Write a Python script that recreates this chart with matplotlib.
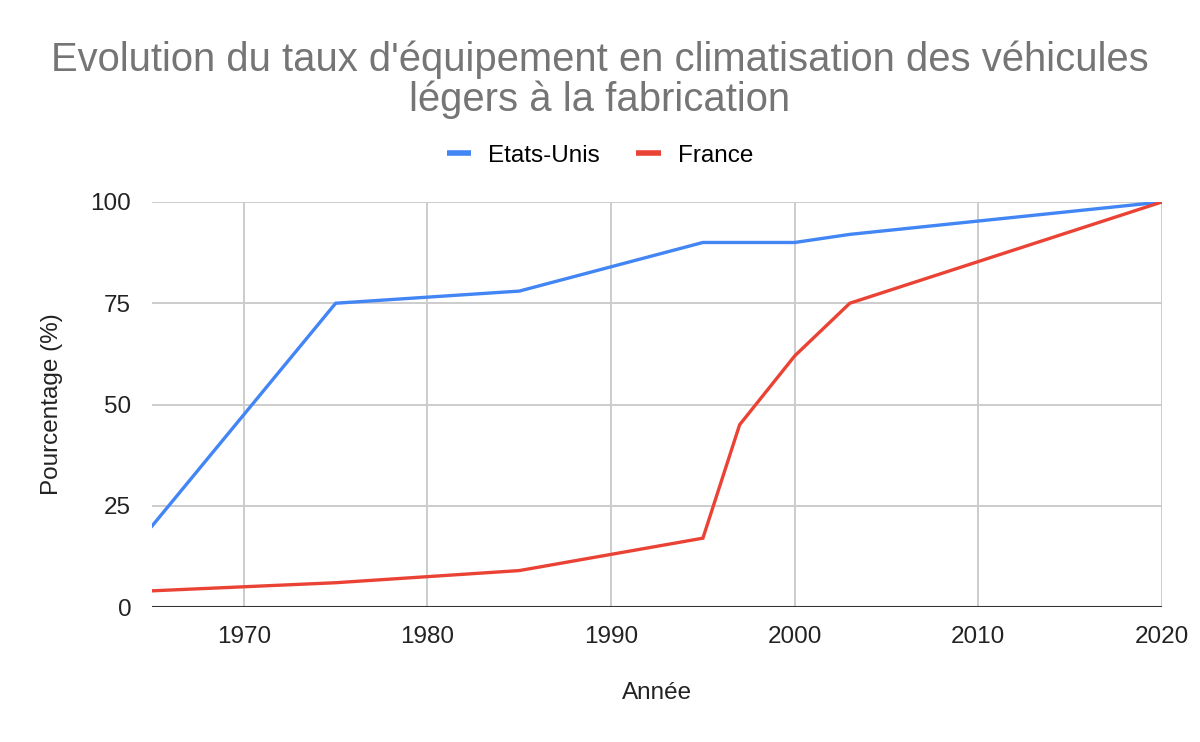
import matplotlib
matplotlib.use("Agg")
import matplotlib.pyplot as plt
from matplotlib.lines import Line2D

plt.rcParams["font.family"] = ["Liberation Sans", "DejaVu Sans"]

# ─────────────────────────────────────────
# Data
# ─────────────────────────────────────────
years_us = [1965, 1975, 1985, 1995, 2000, 2003, 2020]
pct_us = [20, 75, 78, 90, 90, 92, 100]

years_fr = [1965, 1975, 1985, 1995, 1997, 2000, 2003, 2020]
pct_fr = [4, 6, 9, 17, 45, 62, 75, 100]

x_ticks = [1970, 1980, 1990, 2000, 2010, 2020]
y_ticks = [0, 25, 50, 75, 100]

BLUE = "#4285F4"
RED = "#EA4335"
GRID = "#CCCCCC"

# ─────────────────────────────────────────
# Plot
# ─────────────────────────────────────────
fig = plt.figure(figsize=(12, 7.42), dpi=100)
ax = fig.add_axes([0.1267, 0.1819, 0.8416, 0.5459])

ax.plot(years_us, pct_us, color=BLUE, lw=2.4, solid_joinstyle="miter", zorder=3)
ax.plot(years_fr, pct_fr, color=RED, lw=2.4, solid_joinstyle="miter", zorder=3)

ax.set_xlim(1965, 2020)
ax.set_ylim(0, 100)
ax.set_xticks(x_ticks)
ax.set_yticks(y_ticks)
ax.grid(True, color=GRID, lw=1.4, zorder=0)
ax.axhline(0, color="#333333", lw=2.2, zorder=2)
for s in ax.spines.values():
    s.set_visible(False)
ax.tick_params(length=0, labelsize=17.5, colors="#222222")
ax.tick_params(axis="x", pad=14)
ax.tick_params(axis="y", pad=15)

ax.set_xlabel("Année", fontsize=17.5, color="#222222", labelpad=24)
ax.set_ylabel("Pourcentage (%)", fontsize=17.5, color="#222222", labelpad=20)

fig.text(0.5, 0.893, "Evolution du taux d'équipement en climatisation des véhicules\nlégers à la fabrication",
         ha="center", va="center", fontsize=28.8, color="#757575", linespacing=1.05)

handles = [Line2D([], [], color=BLUE, lw=4, solid_capstyle="butt"),
           Line2D([], [], color=RED, lw=4, solid_capstyle="butt")]
fig.legend(handles, ["Etats-Unis", "France"], loc="center", bbox_to_anchor=(0.5, 0.79),
           ncol=2, frameon=False, fontsize=17.5, handlelength=1.0, handletextpad=0.7,
           columnspacing=1.5)

fig.savefig("out.png", dpi=100)
